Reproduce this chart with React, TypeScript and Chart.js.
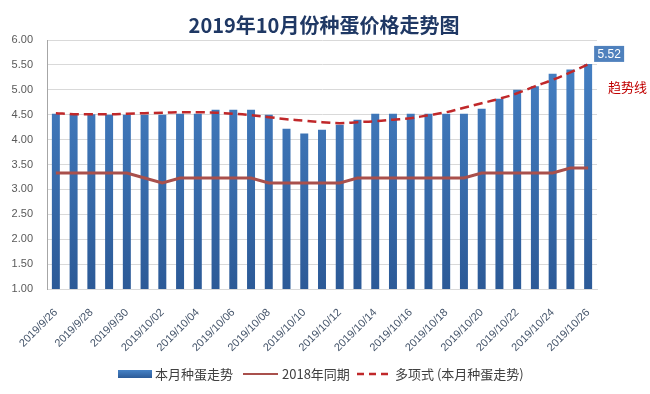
import React, { useEffect, useRef } from "react";
import { Chart, registerables } from "chart.js";

Chart.register(...registerables);

const dateLabels: string[] = [
  "2019/9/26", "2019/9/27", "2019/9/28", "2019/9/29", "2019/9/30",
  "2019/10/01", "2019/10/02", "2019/10/03", "2019/10/04", "2019/10/05",
  "2019/10/06", "2019/10/07", "2019/10/08", "2019/10/09", "2019/10/10",
  "2019/10/11", "2019/10/12", "2019/10/13", "2019/10/14", "2019/10/15",
  "2019/10/16", "2019/10/17", "2019/10/18", "2019/10/19", "2019/10/20",
  "2019/10/21", "2019/10/22", "2019/10/23", "2019/10/24", "2019/10/25",
  "2019/10/26",
];

const thisMonth: number[] = [
  4.52, 4.51, 4.51, 4.5, 4.5, 4.5, 4.5, 4.52, 4.52, 4.6, 4.6, 4.6, 4.5, 4.22, 4.12,
  4.2, 4.3, 4.4, 4.52, 4.52, 4.52, 4.52, 4.52, 4.52, 4.62, 4.82, 5.0, 5.07, 5.32, 5.41,
  5.52,
];

const lastYear: number[] = [
  3.33, 3.33, 3.33, 3.33, 3.33, 3.23, 3.13, 3.23, 3.23, 3.23, 3.23, 3.23, 3.13, 3.13, 3.13,
  3.13, 3.13, 3.23, 3.23, 3.23, 3.23, 3.23, 3.23, 3.23, 3.33, 3.33, 3.33, 3.33, 3.33, 3.43,
  3.43,
];

const trendLine: number[] = [
  4.53, 4.51, 4.51, 4.51, 4.52, 4.53, 4.54, 4.55, 4.55, 4.54, 4.52, 4.49, 4.45, 4.41, 4.38,
  4.35, 4.33, 4.35, 4.37, 4.4, 4.43, 4.49, 4.55, 4.64, 4.73, 4.82, 4.93, 5.07, 5.2, 5.35,
  5.51,
];

const titleText = "2019年10月份种蛋价格走势图";
const seriesNames = ["本月种蛋走势", "2018年同期", "多项式 (本月种蛋走势)"];
const trendNote = "趋势线";

const FONT = "'Liberation Sans', 'Noto Sans CJK SC', sans-serif";
const CJK = "'Noto Sans CJK SC', 'Liberation Sans', sans-serif";

const decorPlugin = {
  id: "decor",
  afterDraw(chart: any) {
    const ctx = chart.ctx as CanvasRenderingContext2D;
    const area = chart.chartArea;
    ctx.save();
    // title
    ctx.fillStyle = "#1f3864";
    ctx.font = `bold 20px ${CJK}`;
    ctx.textAlign = "center";
    ctx.textBaseline = "middle";
    ctx.fillText(titleText, 324, 25);

    // data label on last bar
    const meta = chart.getDatasetMeta(0);
    const last = meta.data[meta.data.length - 1];
    if (last) {
      const bx = last.x + 6;
      const by = last.y - 18;
      ctx.fillStyle = "#4f81bd";
      ctx.fillRect(bx, by, 30, 16);
      ctx.fillStyle = "#ffffff";
      ctx.font = `12px ${FONT}`;
      ctx.textAlign = "center";
      ctx.textBaseline = "middle";
      ctx.fillText(thisMonth[thisMonth.length - 1].toFixed(2), bx + 15, by + 8.5);
    }

    // trend note
    ctx.fillStyle = "#c00000";
    ctx.font = `13px ${CJK}`;
    ctx.textAlign = "left";
    ctx.textBaseline = "middle";
    ctx.fillText(trendNote, area.right + 11, 87);

    // legend
    const ly = 374;
    ctx.font = `13px ${CJK}`;
    ctx.fillStyle = "#404040";
    ctx.textBaseline = "middle";
    const g = ctx.createLinearGradient(0, ly - 4, 0, ly + 4);
    g.addColorStop(0, "#4682c6");
    g.addColorStop(1, "#2c5b98");
    ctx.fillStyle = g;
    ctx.fillRect(118, ly - 4, 34, 8);
    ctx.fillStyle = "#404040";
    ctx.fillText(seriesNames[0], 155, ly);
    ctx.strokeStyle = "#a9504c";
    ctx.lineWidth = 2;
    ctx.beginPath();
    ctx.moveTo(243, ly);
    ctx.lineTo(278, ly);
    ctx.stroke();
    ctx.fillText(seriesNames[1], 282, ly);
    ctx.strokeStyle = "#c0282a";
    ctx.lineWidth = 2.5;
    ctx.setLineDash([7, 5]);
    ctx.beginPath();
    ctx.moveTo(357, ly);
    ctx.lineTo(392, ly);
    ctx.stroke();
    ctx.setLineDash([]);
    ctx.fillText(seriesNames[2], 395, ly);
    ctx.restore();
  },
};

export default function App() {
  const ref = useRef<HTMLCanvasElement | null>(null);

  useEffect(() => {
    if (!ref.current) return;
    const chart = new Chart(ref.current, {
      type: "bar",
      data: {
        labels: dateLabels,
        datasets: [
          {
            type: "bar",
            label: seriesNames[0],
            data: thisMonth,
            backgroundColor: (c: any) => {
              const area = c.chart.chartArea;
              if (!area) return "#3a70b3";
              const g = c.chart.ctx.createLinearGradient(0, area.top, 0, area.bottom);
              g.addColorStop(0, "#4783c7");
              g.addColorStop(1, "#2c5a97");
              return g;
            },
            categoryPercentage: 1,
            barPercentage: 0.45,
            order: 3,
          } as any,
          {
            type: "line",
            label: seriesNames[1],
            data: lastYear,
            borderColor: "#a9504c",
            borderWidth: 3,
            pointRadius: 0,
            tension: 0,
            order: 2,
          } as any,
          {
            type: "line",
            label: seriesNames[2],
            data: trendLine,
            borderColor: "#c0282a",
            borderWidth: 2.5,
            borderDash: [9, 5],
            pointRadius: 0,
            tension: 0.4,
            order: 1,
          } as any,
        ],
      },
      options: {
        responsive: false,
        animation: false,
        layout: { padding: { top: 40, right: 53, left: 0, bottom: 0 } },
        plugins: {
          legend: { display: false },
          title: { display: false },
          tooltip: { enabled: false },
        },
        scales: {
          x: {
            grid: { display: false, drawTicks: false },
            border: { display: true, color: "#d9d9d9" },
            ticks: {
              autoSkip: false,
              maxRotation: 45,
              minRotation: 45,
              padding: 17,
              color: "#44546a",
              font: { size: 11, family: FONT },
              callback: (_v: any, i: number) => (i % 2 === 0 ? dateLabels[i] : ""),
            },
            afterFit: (s: any) => {
              s.height = 105;
            },
          },
          y: {
            min: 1,
            max: 6,
            grid: { color: "#d9d9d9", drawTicks: false },
            border: { display: true, color: "#a6a6a6" },
            ticks: {
              stepSize: 0.5,
              padding: 14,
              color: "#595959",
              font: { size: 11, family: FONT },
              callback: (v: any) => Number(v).toFixed(2),
            },
            afterFit: (s: any) => {
              s.width = 47;
            },
          },
        },
      },
      plugins: [decorPlugin],
    });
    return () => chart.destroy();
  }, []);

  return (
    <div style={{ position: "fixed", left: 0, top: 0, width: 650, height: 394, background: "#ffffff" }}>
      <canvas ref={ref} width={650} height={394} style={{ width: 650, height: 394 }} />
    </div>
  );
}
